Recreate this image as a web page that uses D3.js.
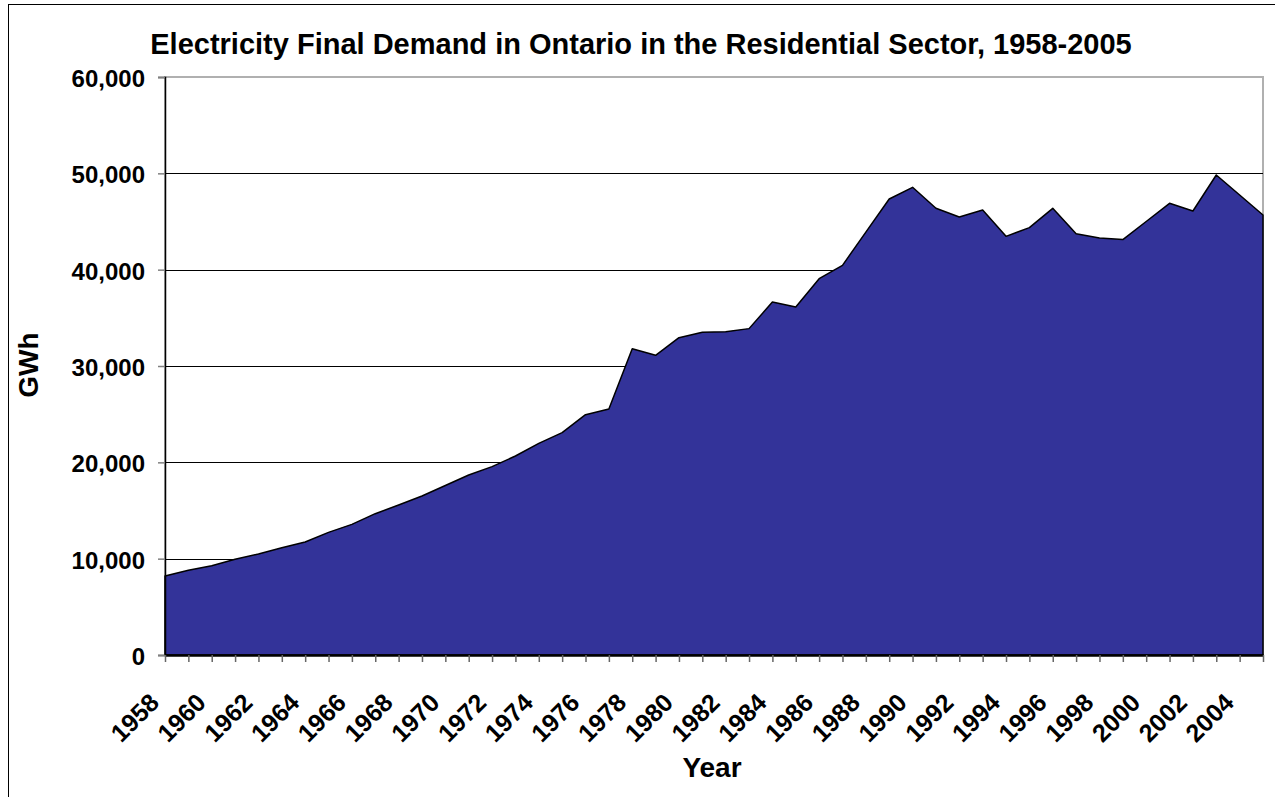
<!DOCTYPE html>
<html>
<head>
<meta charset="utf-8">
<script src="https://cdn.jsdelivr.net/npm/d3@7"></script>
<style>
	body { margin: 0; background: #fff; }
	text { font-family: "Liberation Sans", Arial, sans-serif; font-weight: bold; fill: #000; }
</style>
</head>
<body>
<div id="chart"></div>
<script>

// years on the category axis
var years = d3.range(1958, 2006)

// residential electricity demand, GWh
var demand = [
	8200, 8790, 9270, 9930, 10480, 11140, 11730, 12730, 13560, 14670,
	15570, 16500, 17600, 18690, 19550, 20660, 21970, 23080, 24950, 25540,
	31800, 31110, 32940, 33500, 33560, 33880, 36640, 36130, 39060, 40450,
	43900, 47340, 48550, 46370, 45470, 46200, 43460, 44360, 46370, 43740,
	43290, 43120, 45000, 46890, 46090, 49830, 47750, 45680
]

var yTicks = [0, 10000, 20000, 30000, 40000, 50000, 60000]

var title = "Electricity Final Demand in Ontario in the Residential Sector, 1958-2005"

var width = 1275
var height = 797

// plot area edges
var plotLeft = 165, plotRight = 1263, plotTop = 77, plotBottom = 655

var svg = d3.select("#chart").append("svg")
	.attr("width", width)
	.attr("height", height)

// chart border (runs off the bottom and right of the picture)
svg.append("rect")
	.attr("x", 8.5)
	.attr("y", 4.5)
	.attr("width", 1400)
	.attr("height", 1000)
	.attr("fill", "white")
	.attr("stroke", "black")

var data = years.map(function(d, i) { return {year: d, value: demand[i]} })

var x = d3.scalePoint()
	.domain(years)
	.range([plotLeft, plotRight])

var y = d3.scaleLinear()
	.domain([0, 60000])
	.range([plotBottom, plotTop])

// plot area border
svg.append("rect")
	.attr("x", plotLeft)
	.attr("y", plotTop)
	.attr("width", plotRight - plotLeft)
	.attr("height", plotBottom - plotTop)
	.attr("fill", "none")
	.attr("stroke", "#b0b0b0")
	.attr("stroke-width", 2)

// gridlines
svg.append("g")
	.selectAll("line")
	.data(yTicks.filter(function(d) { return d > 0 && d < 60000 }))
	.enter()
	.append("line")
	.attr("x1", plotLeft)
	.attr("x2", plotRight)
	.attr("y1", function(d) { return Math.round(y(d)) + 0.5 })
	.attr("y2", function(d) { return Math.round(y(d)) + 0.5 })
	.attr("stroke", "#000")
	.attr("stroke-width", 1)

var area = d3.area()
	.x(function(d) { return x(d.year) })
	.y0(y(0))
	.y1(function(d) { return y(d.value) })

svg.append("path")
	.datum(data)
	.attr("d", area)
	.attr("fill", "#333399")
	.attr("stroke", "#000")
	.attr("stroke-width", 1.5)
	.attr("stroke-linejoin", "round")

// y axis
var yAxis = d3.axisLeft(y)
	.tickValues(yTicks)
	.tickSize(7)
	.tickPadding(13)
	.tickFormat(d3.format(","))

var yAxisGroup = svg.append("g")
	.attr("transform", "translate(" + plotLeft + ",0)")
	.call(yAxis)

yAxisGroup.select(".domain").attr("stroke", "#000").attr("stroke-width", 1.5)
yAxisGroup.selectAll(".tick line").attr("stroke", "#808080").attr("stroke-width", 1.5)
yAxisGroup.selectAll(".tick text")
	.attr("dy", "0.4em")
	.style("font-size", "24px")
	.style("font-family", "'Liberation Sans', Arial, sans-serif")
	.style("font-weight", "bold")
	.attr("fill", "#000")

// x axis
var xAxis = d3.axisBottom(x)
	.tickSize(7)
	.tickSizeOuter(0)
	.tickFormat(function(d) { return (d - 1958) % 2 == 0 ? d : "" })

var xAxisGroup = svg.append("g")
	.attr("transform", "translate(0," + plotBottom + ")")
	.call(xAxis)

xAxisGroup.select(".domain").attr("stroke", "#000").attr("stroke-width", 2.5)
xAxisGroup.selectAll(".tick line").attr("stroke", "#666").attr("stroke-width", 1.5)
xAxisGroup.selectAll(".tick text")
	.attr("text-anchor", "end")
	.attr("x", 0)
	.attr("y", 0)
	.attr("dy", "0.35em")
	.attr("transform", "translate(-11,43) rotate(-45)")
	.style("font-size", "25px")
	.style("font-family", "'Liberation Sans', Arial, sans-serif")
	.style("font-weight", "bold")
	.attr("fill", "#000")

// titles
svg.append("text")
	.attr("x", 641)
	.attr("y", 54)
	.attr("text-anchor", "middle")
	.style("font-size", "29px")
	.text(title)

svg.append("text")
	.attr("x", 712)
	.attr("y", 777)
	.attr("text-anchor", "middle")
	.style("font-size", "28px")
	.text("Year")

svg.append("text")
	.attr("transform", "translate(38, 365) rotate(-90)")
	.attr("text-anchor", "middle")
	.style("font-size", "28px")
	.text("GWh")

</script>
</body>
</html>
